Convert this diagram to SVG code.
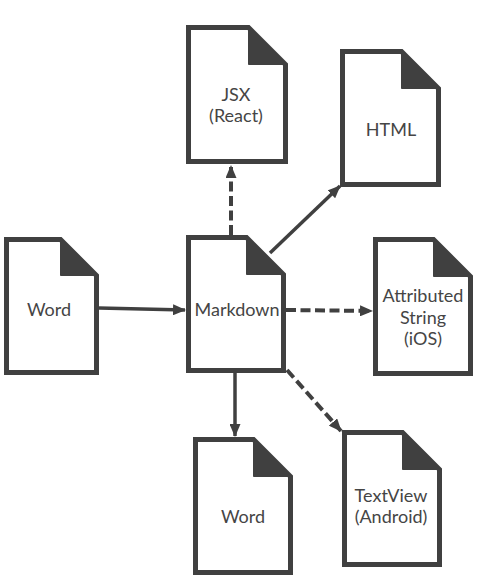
<svg xmlns="http://www.w3.org/2000/svg" width="500" height="576" viewBox="0 0 500 576">
<style>
.doc{fill:#fff;stroke:#404040;stroke-width:5;stroke-linejoin:miter}
.fold{fill:#404040;stroke:#404040;stroke-width:1}
.lbl{font-family:Lato,"Liberation Sans",sans-serif;font-size:18px;fill:#454545;text-anchor:middle}
.edge{fill:none;stroke:#404040;stroke-width:3.5}
.dash{stroke-width:4;stroke-dasharray:10 4.5}
</style>
<defs>
<marker id="ah" markerUnits="userSpaceOnUse" markerWidth="13" markerHeight="11" refX="12" refY="5.5" orient="auto">
<path d="M0,0 L13,5.5 L0,11 Z" fill="#404040"/>
</marker>
</defs>
<g id="connectors">
<path class="edge" d="M99,308 L185,310" marker-end="url(#ah)"/>
<path class="edge dash" d="M231,235 L231,166" marker-end="url(#ah)"/>
<path class="edge" d="M270,253 L340,186" marker-end="url(#ah)"/>
<path class="edge dash" d="M286,310 L372,311" marker-end="url(#ah)"/>
<path class="edge" d="M235,373 L235,436" marker-end="url(#ah)"/>
<path class="edge dash" d="M287,370 L341,431" marker-end="url(#ah)"/>
</g>
<g id="jsx">
<path class="doc" d="M188.5,27.5 H248.5 L285.5,64.5 V161.5 H188.5 Z"/>
<path class="fold" d="M248.5,27.5 L285.5,64.5 H248.5 Z"/>
<text class="lbl" x="236" y="101">JSX</text>
<text class="lbl" x="236" y="122">(React)</text>
</g>
<g id="html">
<path class="doc" d="M342.5,51.5 H401.5 L438.5,88.5 V184.5 H342.5 Z"/>
<path class="fold" d="M401.5,51.5 L438.5,88.5 H401.5 Z"/>
<text class="lbl" x="391" y="136">HTML</text>
</g>
<g id="word-in">
<path class="doc" d="M6.5,239.5 H60.5 L96.5,275.5 V372.5 H6.5 Z"/>
<path class="fold" d="M60.5,239.5 L96.5,275.5 H60.5 Z"/>
<text class="lbl" x="49" y="316">Word</text>
</g>
<g id="markdown">
<path class="doc" d="M188.5,237.5 H246.5 L283.5,274.5 V370.5 H188.5 Z"/>
<path class="fold" d="M246.5,237.5 L283.5,274.5 H246.5 Z"/>
<text class="lbl" x="237" y="316">Markdown</text>
</g>
<g id="attributed">
<path class="doc" d="M375.5,239.5 H433.5 L470.5,276.5 V373.5 H375.5 Z"/>
<path class="fold" d="M433.5,239.5 L470.5,276.5 H433.5 Z"/>
<text class="lbl" x="423" y="302">Attributed</text>
<text class="lbl" x="423" y="324">String</text>
<text class="lbl" x="423" y="345">(iOS)</text>
</g>
<g id="word-out">
<path class="doc" d="M195.5,439.5 H253.5 L290.5,476.5 V572.5 H195.5 Z"/>
<path class="fold" d="M253.5,439.5 L290.5,476.5 H253.5 Z"/>
<text class="lbl" x="243" y="523">Word</text>
</g>
<g id="textview">
<path class="doc" d="M344.5,432.5 H402.5 L439.5,469.5 V564.5 H344.5 Z"/>
<path class="fold" d="M402.5,432.5 L439.5,469.5 H402.5 Z"/>
<text class="lbl" x="391" y="502">TextView</text>
<text class="lbl" x="391" y="523">(Android)</text>
</g>
</svg>
